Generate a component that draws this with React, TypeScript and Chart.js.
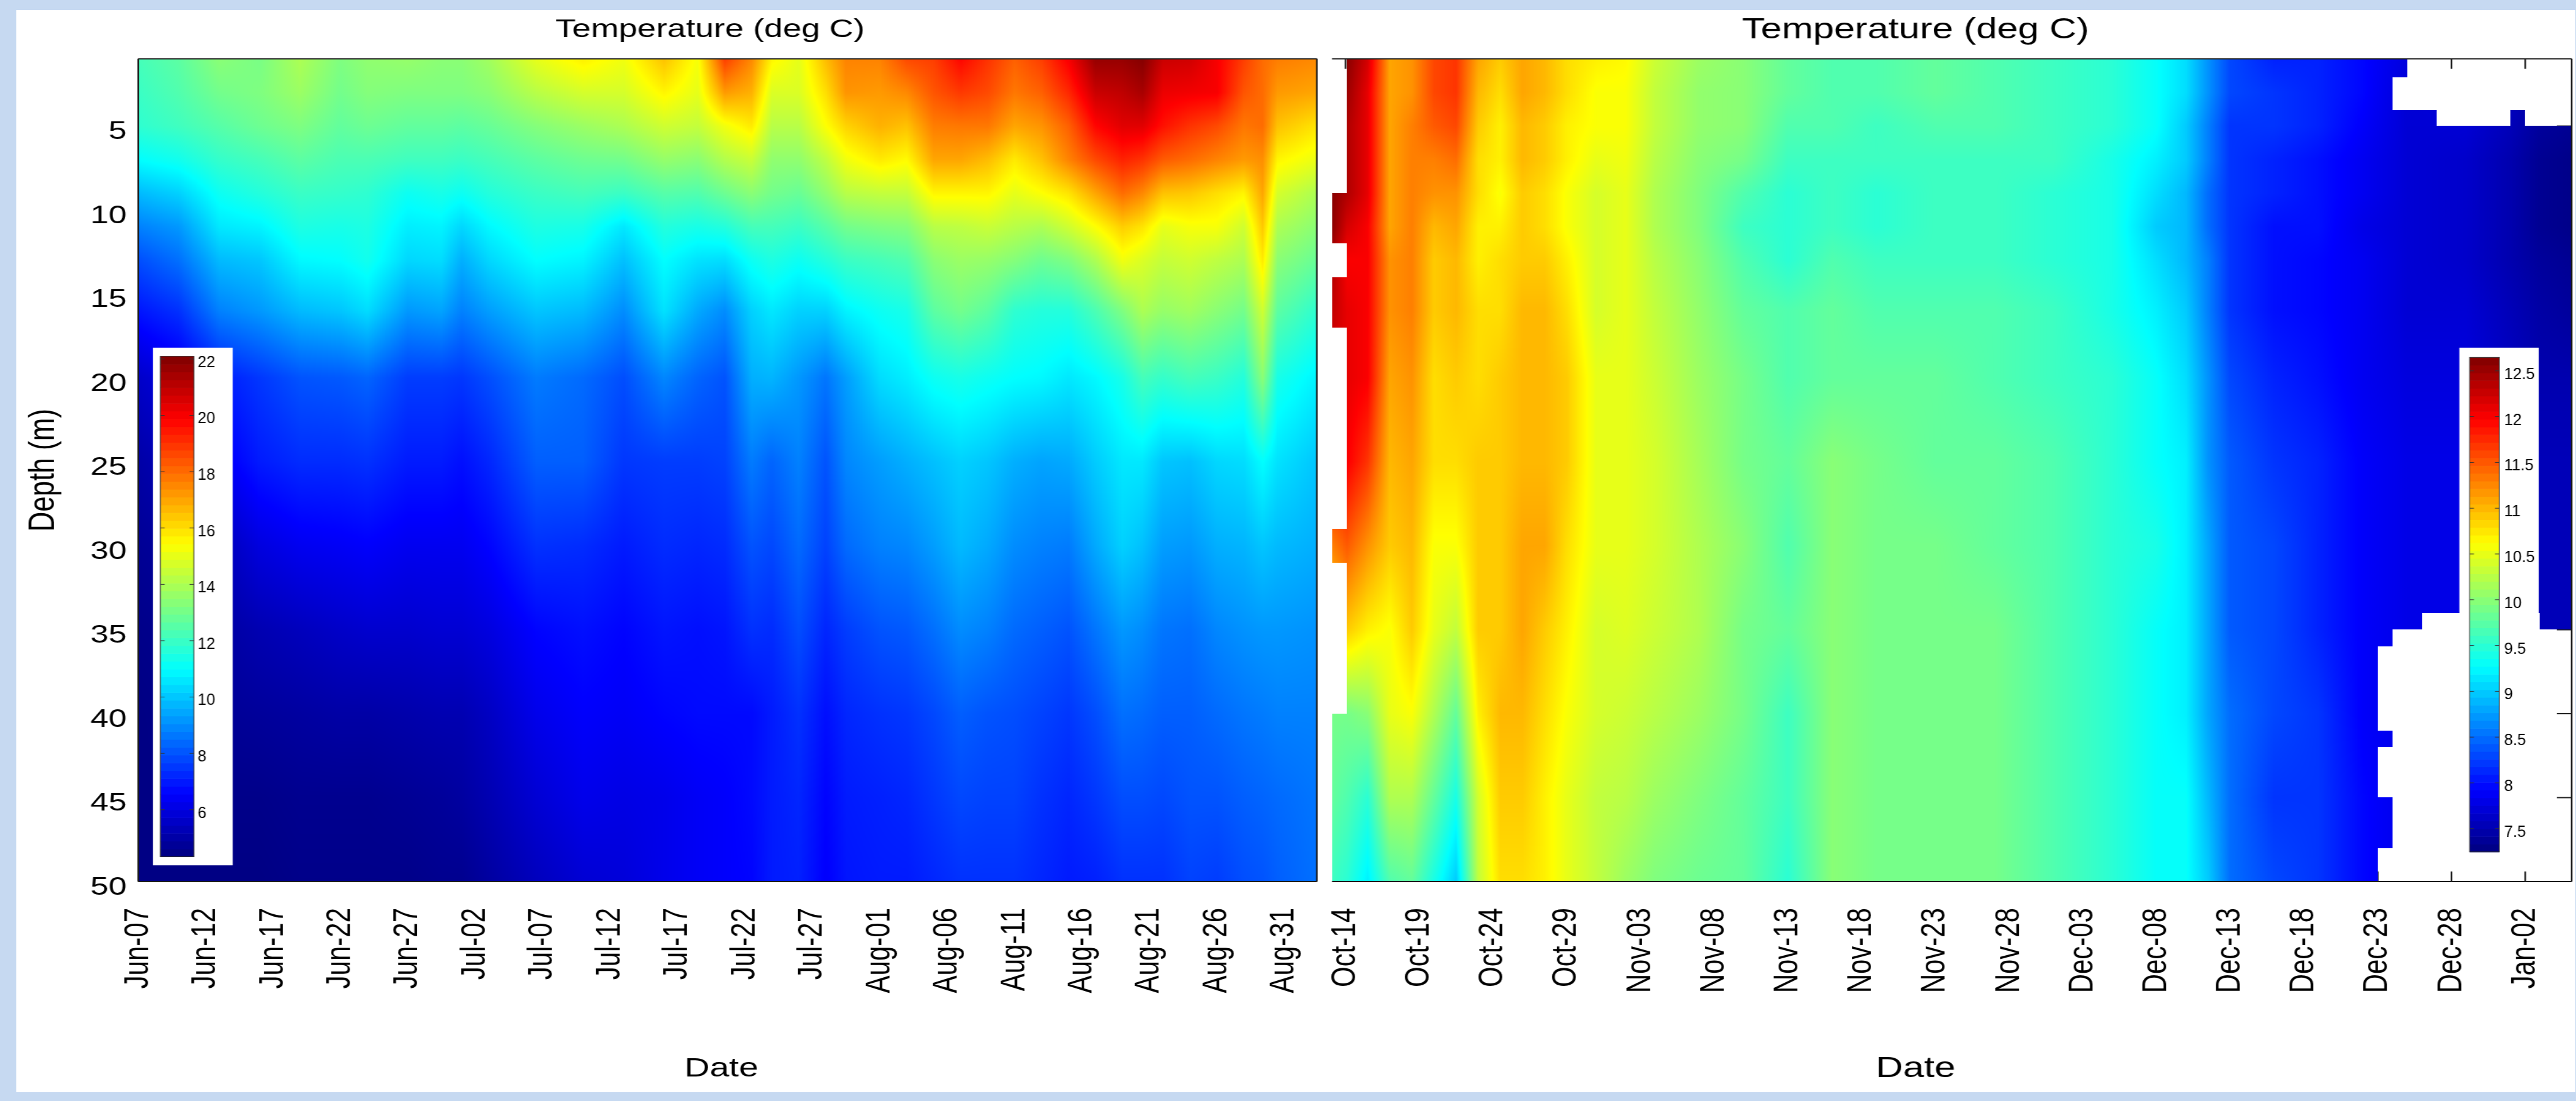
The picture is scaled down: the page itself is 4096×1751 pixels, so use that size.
import React, { useEffect, useRef } from "react";
import { Chart, registerables } from "chart.js";

Chart.register(...registerables);

const K = 4096 / 4771;
const STRETCH = 1.3;

const depths = [1, 3, 5, 7, 9, 11, 13, 16, 20, 25, 30, 35, 40, 45, 50];
const depthTicks = [5, 10, 15, 20, 25, 30, 35, 40, 45, 50];

const summerLabels = ["Jun-07", "Jun-12", "Jun-17", "Jun-22", "Jun-27", "Jul-02", "Jul-07", "Jul-12", "Jul-17", "Jul-22", "Jul-27", "Aug-01", "Aug-06", "Aug-11", "Aug-16", "Aug-21", "Aug-26", "Aug-31"];
const summerTickDays = [0, 5, 10, 15, 20, 25, 30, 35, 40, 45, 50, 55, 60, 65, 70, 75, 80, 85];
const autumnLabels = ["Oct-14", "Oct-19", "Oct-24", "Oct-29", "Nov-03", "Nov-08", "Nov-13", "Nov-18", "Nov-23", "Nov-28", "Dec-03", "Dec-08", "Dec-13", "Dec-18", "Dec-23", "Dec-28", "Jan-02"];
const autumnTickDays = [0, 5, 10, 15, 20, 25, 30, 35, 40, 45, 50, 55, 60, 65, 70, 75, 80];

const summerDays = [0, 3, 6, 9, 12, 15, 17, 20, 22.5, 24, 26, 29.5, 33, 36, 39, 41.5, 43.5, 45.5, 47, 49, 51, 52.5, 55, 57, 59, 61, 63, 65, 67, 69, 71, 73, 74.5, 76, 78, 80, 82, 83.4, 84.5, 87.4];
const summerTemps = [
  [12.2, 12, 11.8, 11, 9.8, 8.8, 7.9, 6.9, 5.6, 5, 4.7, 4.5, 4.4, 4.4, 4.4],
  [12.6, 12.4, 12.1, 11.3, 10.2, 9.2, 8.5, 7.4, 6.1, 5.4, 4.9, 4.6, 4.5, 4.4, 4.4],
  [13.4, 13, 12.5, 11.9, 11.2, 10.6, 9.8, 8.8, 7, 6.3, 5.3, 4.9, 4.7, 4.5, 4.4],
  [13.1, 13.2, 12.9, 12.2, 11.6, 10.8, 10, 9.2, 7.5, 7, 6, 5.2, 4.8, 4.5, 4.4],
  [14, 13.7, 13.2, 12.6, 12, 11.5, 10.9, 9.8, 8, 7.3, 6.3, 5.4, 4.9, 4.6, 4.5],
  [13.2, 13, 12.7, 12.3, 11.9, 11.4, 11, 10, 8.1, 7.3, 6.4, 5.6, 5, 4.6, 4.5],
  [13.5, 13.3, 12.9, 12.3, 11.8, 11.5, 11.3, 10.4, 8.3, 7.4, 6.5, 5.7, 5, 4.6, 4.5],
  [13.6, 13.2, 12.7, 12.1, 11.2, 10.7, 10.3, 9.2, 7.6, 7, 6.3, 5.7, 5.1, 4.7, 4.5],
  [13.4, 13.2, 12.7, 12.1, 11.4, 10.8, 10.4, 9.4, 7.6, 7, 6.3, 5.8, 5.2, 4.8, 4.6],
  [13.4, 13.2, 12.6, 12, 11.2, 10.3, 9.6, 8.8, 7.5, 6.8, 6.3, 5.8, 5.2, 4.9, 4.6],
  [13.8, 13.4, 12.8, 12.2, 11.6, 10.9, 10.3, 9.3, 7.9, 7.2, 6.6, 6, 5.5, 5.2, 4.9],
  [15, 14.2, 13.3, 12.6, 12, 11.5, 11, 10, 8.7, 8.2, 7.4, 6.6, 6.2, 5.8, 5.4],
  [15.7, 14.7, 13.7, 12.9, 12.2, 11.4, 10.8, 9.8, 8.4, 8.2, 7.3, 6.8, 6.5, 6.2, 5.8],
  [15.2, 14.7, 14, 13, 12, 10.6, 9.9, 9, 7.9, 7.5, 7, 6.6, 6.4, 6.1, 5.9],
  [16.5, 15.6, 14.6, 13.6, 12.5, 11.6, 11, 10.5, 8.9, 7.6, 7.3, 6.9, 6.6, 6.2, 6.2],
  [15.3, 15, 14.4, 13.4, 12.4, 11.4, 10.5, 9.5, 8.3, 7.6, 7.2, 6.8, 6.7, 6.4, 6.4],
  [18.8, 17.2, 15.2, 14.1, 12.9, 11.6, 10.4, 9, 8, 7.7, 7.3, 6.9, 6.7, 6.5, 6.5],
  [17.5, 16.8, 15.8, 14.5, 13.4, 12.2, 11.2, 10.2, 9.6, 8.7, 8, 7.4, 6.7, 6.7, 6.6],
  [15.6, 14.8, 14.2, 13.5, 13, 12.2, 11.5, 10.6, 9.7, 8.3, 7.8, 7.3, 7, 7, 7],
  [15, 14.8, 14.2, 13.5, 12.8, 12, 11.2, 10.2, 9.2, 8.8, 8.4, 7.9, 7.4, 7.2, 7.1],
  [16.6, 16, 15.4, 14.3, 13.5, 12.5, 11.6, 10.2, 8.6, 8, 7.7, 7.2, 6.8, 6.6, 6.5],
  [17.6, 17.3, 16.2, 15.2, 14.2, 13, 12, 10.8, 9.3, 8.9, 8.4, 7.6, 7.2, 7, 6.9],
  [17.6, 17.2, 16.8, 15.8, 14.4, 13.2, 12.2, 11.2, 10.4, 9.3, 8.8, 8, 7.4, 7.1, 7],
  [18.6, 17.5, 16.5, 15.5, 14.4, 13.3, 12.4, 11.4, 10.7, 9.6, 8.9, 8.1, 7.5, 7.2, 7],
  [18.8, 18.4, 17.7, 17, 15.6, 14.2, 13.4, 12.6, 11.2, 9.9, 9.3, 8.5, 7.8, 7.5, 7.2],
  [19.8, 18.9, 17.8, 17, 15.6, 14.3, 13.7, 13, 11.4, 10.2, 9.8, 9, 8.2, 7.8, 7.4],
  [19, 18.6, 17.8, 16.6, 15.6, 14.5, 13.6, 12.6, 11.2, 10, 9.5, 8.8, 8, 7.7, 7.4],
  [18.2, 17.8, 17, 15.8, 15, 14.2, 13.3, 11.8, 11, 9.6, 9, 8.4, 7.9, 7.7, 7.4],
  [18.8, 18.2, 17.3, 16.5, 15.4, 14, 12.9, 11.6, 10.9, 9.4, 8.8, 8.2, 7.7, 7.4, 7.2],
  [20, 19.2, 18.2, 17.6, 15.9, 14.6, 13.2, 11.6, 10.6, 9.5, 8.7, 8, 7.5, 7.2, 7],
  [21.7, 20.8, 19.8, 18.6, 17, 15.4, 14, 12.3, 10.9, 10.1, 9.5, 8.6, 7.9, 7.5, 7.1],
  [21.7, 21, 20.4, 19.3, 18, 16.3, 15.2, 13.2, 11.4, 10.6, 10.2, 9.2, 8.5, 7.9, 7.4],
  [22, 21.4, 20.4, 19, 17.5, 15.9, 14.8, 14, 12.2, 10.6, 9.9, 9, 8.4, 7.9, 7.4],
  [20.8, 20.2, 19.6, 18.3, 16.5, 15, 14.4, 13.6, 11.9, 10, 9.3, 8.6, 8.2, 7.8, 7.4],
  [20.7, 20.1, 19, 18, 16.4, 15.3, 14.6, 13.8, 12.2, 9.9, 9.2, 8.5, 8.2, 8, 7.7],
  [20, 20, 18.6, 17.6, 16, 15.3, 14.3, 13.4, 12, 10.3, 9.6, 8.9, 8.4, 8, 7.6],
  [18.8, 18.4, 17.8, 17.2, 15.6, 14.6, 14, 13, 11.6, 10.4, 9.7, 9.1, 8.6, 8.2, 7.9],
  [18, 18, 18, 17.4, 17, 16.4, 15.8, 14.6, 13.4, 11, 10, 9.2, 8.7, 8.3, 8],
  [17.7, 17.2, 16.5, 15.6, 14.7, 14, 13.4, 12.6, 11.4, 10.5, 9.8, 9.2, 8.8, 8.4, 8.2],
  [17.5, 17, 15.9, 15.1, 14, 13.4, 12.8, 11.8, 10.8, 10, 9.6, 9.1, 8.8, 8.6, 8.5],
];

const autumnDays = [-0.92, 0.1, 1.5, 3, 4.5, 6, 7.5, 9, 10.5, 12, 13.5, 15, 17, 19, 21, 24, 27, 30, 33, 36, 40, 44, 48, 52, 55, 57, 58.5, 60, 63, 66, 69, 72, 76, 79, 81, 83.2];
const autumnTemps = [
  [12.6, 12.6, 12.6, 12.6, 12.6, 12.6, 12.4, 12.3, 12.2, 12, 11.3, 10.6, 9.9, 9.8, 9.6],
  [12.6, 12.5, 12.4, 12.4, 12.4, 12.2, 12, 12.1, 12.1, 12, 11.5, 10.9, 9.9, 9.7, 9.5],
  [12.2, 12.1, 12.1, 12.1, 12.1, 12, 12, 12, 12, 11.7, 11.2, 10.7, 10, 9.5, 9.2],
  [11.1, 11.1, 11.1, 11.1, 11.1, 11.1, 11.2, 11.2, 11.1, 11, 10.9, 10.6, 10.5, 10.2, 9.7],
  [11.2, 11.2, 11.3, 11.3, 11.3, 11.3, 11.3, 11.3, 11.2, 11.1, 11, 10.9, 10.6, 10.2, 9.8],
  [11.6, 11.6, 11.5, 11.3, 11.2, 11, 10.9, 10.9, 10.8, 10.8, 10.6, 10.5, 10.2, 9.8, 9.4],
  [11.7, 11.7, 11.6, 11.4, 11.2, 11.1, 11, 11, 10.9, 10.8, 10.6, 10.3, 9.8, 9.4, 9],
  [11.1, 11, 10.9, 10.8, 10.8, 10.7, 10.7, 10.8, 10.8, 10.9, 10.9, 10.9, 10.7, 10.4, 10.3],
  [10.9, 10.8, 10.7, 10.7, 10.6, 10.7, 10.8, 10.8, 10.9, 10.9, 10.9, 10.9, 11, 10.9, 10.8],
  [11.1, 11.1, 11, 11, 10.9, 10.9, 10.9, 11, 11, 11, 11.1, 11.1, 11, 10.9, 10.8],
  [11, 11, 10.9, 10.9, 10.8, 10.8, 10.9, 11, 11, 11, 11.1, 10.9, 10.8, 10.7, 10.7],
  [10.8, 10.8, 10.7, 10.7, 10.6, 10.6, 10.7, 10.8, 10.9, 10.9, 10.8, 10.7, 10.6, 10.5, 10.5],
  [10.7, 10.6, 10.6, 10.5, 10.4, 10.4, 10.4, 10.4, 10.5, 10.5, 10.5, 10.4, 10.4, 10.3, 10.3],
  [10.65, 10.6, 10.6, 10.55, 10.5, 10.5, 10.5, 10.5, 10.5, 10.5, 10.5, 10.45, 10.35, 10.25, 10.1],
  [10.35, 10.3, 10.3, 10.25, 10.2, 10.2, 10.25, 10.3, 10.35, 10.4, 10.4, 10.35, 10.25, 10.1, 9.95],
  [10.1, 10.05, 10.05, 10, 9.95, 9.95, 10, 10.05, 10.1, 10.15, 10.2, 10.2, 10.1, 9.95, 9.85],
  [10, 10, 10, 9.9, 9.7, 9.6, 9.7, 9.8, 9.9, 9.9, 10, 9.9, 9.9, 9.8, 9.8],
  [9.8, 9.8, 9.7, 9.6, 9.5, 9.5, 9.5, 9.7, 9.7, 9.8, 9.7, 9.8, 9.6, 9.6, 9.5],
  [9.7, 9.7, 9.7, 9.6, 9.6, 9.6, 9.7, 9.8, 9.8, 10, 10, 10, 10, 10, 10],
  [9.7, 9.7, 9.6, 9.6, 9.5, 9.5, 9.6, 9.7, 9.8, 9.9, 9.9, 9.9, 9.9, 9.9, 9.9],
  [9.8, 9.8, 9.7, 9.6, 9.6, 9.6, 9.6, 9.7, 9.8, 9.8, 9.9, 9.9, 9.9, 9.9, 9.9],
  [9.7, 9.7, 9.7, 9.6, 9.6, 9.6, 9.6, 9.7, 9.7, 9.8, 9.8, 9.9, 9.9, 9.9, 9.9],
  [9.6, 9.6, 9.6, 9.6, 9.5, 9.5, 9.5, 9.6, 9.6, 9.7, 9.7, 9.7, 9.7, 9.7, 9.7],
  [9.5, 9.5, 9.5, 9.4, 9.4, 9.4, 9.4, 9.4, 9.5, 9.5, 9.5, 9.5, 9.5, 9.5, 9.5],
  [9.3, 9.3, 9.3, 9.2, 9.1, 9, 9.1, 9.2, 9.3, 9.3, 9.4, 9.3, 9.3, 9.3, 9.3],
  [9.1, 9.1, 9, 9, 8.9, 8.9, 8.9, 9, 9.1, 9.2, 9.2, 9.2, 9.2, 9.3, 9.3],
  [8.7, 8.7, 8.6, 8.6, 8.5, 8.5, 8.6, 8.6, 8.7, 8.7, 8.8, 8.8, 8.8, 8.9, 9],
  [8.3, 8.3, 8.2, 8.2, 8.2, 8.2, 8.2, 8.2, 8.3, 8.4, 8.4, 8.4, 8.5, 8.5, 8.5],
  [8.1, 8.2, 8.2, 8.1, 8.1, 8, 8, 8, 8.1, 8.2, 8.3, 8.3, 8.3, 8.2, 8.3],
  [8.1, 8.1, 8.1, 8, 8, 8, 7.95, 7.95, 8, 8.1, 8.1, 8.1, 8.2, 8.2, 8.2],
  [7.95, 7.95, 7.9, 7.85, 7.85, 7.8, 7.85, 7.85, 7.85, 7.9, 7.9, 7.9, 7.9, 7.95, 7.95],
  [7.75, 7.7, 7.7, 7.7, 7.7, 7.7, 7.7, 7.7, 7.75, 7.8, 7.8, 7.8, 7.8, 7.8, 7.8],
  [7.75, 7.75, 7.7, 7.65, 7.65, 7.65, 7.65, 7.7, 7.75, 7.8, 7.8, 7.8, 7.8, 7.8, 7.8],
  [7.6, 7.6, 7.55, 7.5, 7.5, 7.5, 7.5, 7.55, 7.6, 7.6, 7.65, 7.65, 7.65, 7.65, 7.65],
  [7.5, 7.45, 7.4, 7.35, 7.35, 7.35, 7.4, 7.45, 7.5, 7.55, 7.55, 7.55, 7.6, 7.6, 7.6],
  [7.45, 7.4, 7.35, 7.3, 7.3, 7.3, 7.35, 7.4, 7.5, 7.55, 7.55, 7.55, 7.6, 7.6, 7.6],
];

// [from day, to day, from depth, to depth] where the record has no data
const autumnGaps = [
  [-2, 0.1, 1, 9], [-2, 0.1, 12, 14], [-2, 0.1, 17, 29], [-2, 0.1, 31, 40],
  [72, 90, 1, 2.1], [71, 90, 2.1, 4.05], [74, 79, 4.05, 5], [80, 90, 4.05, 5],
  [73, 81, 34, 35], [71, 90, 35, 36], [70, 90, 36, 41], [71, 90, 41, 42],
  [70, 90, 42, 45], [71, 90, 45, 48], [70, 90, 48, 50],
];

const summerBarTicks = [22, 20, 18, 16, 14, 12, 10, 8, 6];
const autumnBarTicks = [12.5, 12, 11.5, 11, 10.5, 10, 9.5, 9, 8.5, 8, 7.5];

const TITLE = "Temperature (deg C)";
const FONT = "'Liberation Sans', Arial, sans-serif";

function jet(t: number): [number, number, number] {
  const c = (v: number) => Math.max(0, Math.min(1, v)) * 255;
  const u = Math.max(0, Math.min(1, t));
  return [c(1.5 - Math.abs(4 * u - 3)), c(1.5 - Math.abs(4 * u - 2)), c(1.5 - Math.abs(4 * u - 1))];
}

function bracket(list: number[], v: number): [number, number] {
  let i = 0;
  while (i < list.length - 2 && list[i + 1] < v) i++;
  const f = (v - list[i]) / (list[i + 1] - list[i]);
  return [i, Math.max(0, Math.min(1, f))];
}

type Panel = {
  x0: number; width: number; areaLeft: number; areaRight: number;
  xMin: number; xMax: number; days: number[]; temps: number[][];
  tickDays: number[]; tickLabels: string[]; cMin: number; cMax: number;
  gaps: number[][]; showDepth: boolean; dateX: number; sides: string[];
  titleSize: number; dateSize: number;
  box: number[]; bar: number[]; barTicks: number[]; barTickY: [number, number]; barHigh: number; barLow: number;
  labelX: number;
};

function panelPlugin(p: Panel) {
  const ix = (X: number) => ((X - p.x0) * K) / STRETCH;
  const iy = (Y: number) => Y * K;
  return {
    id: "panel",
    beforeDatasetsDraw(chart: any) {
      const { ctx, chartArea: a, scales } = chart;
      const left = Math.round(a.left), top = Math.round(a.top);
      const w = Math.round(a.right) - left, h = Math.round(a.bottom) - top;
      const pts = chart.data.datasets[0].data;
      const nD = depths.length;
      const colInfo = Array.from({ length: w }, (_, i) => bracket(p.days, scales.x.getValueForPixel(left + i + 0.5)));
      const rowInfo = Array.from({ length: h }, (_, j) => bracket(depths, scales.y.getValueForPixel(top + j + 0.5)));
      const img = ctx.createImageData(w, h);
      let o = 0;
      for (let j = 0; j < h; j++) {
        const [r, fr] = rowInfo[j];
        for (let i = 0; i < w; i++) {
          const [c, fc] = colInfo[i];
          const v00 = pts[c * nD + r].v, v01 = pts[c * nD + r + 1].v;
          const v10 = pts[(c + 1) * nD + r].v, v11 = pts[(c + 1) * nD + r + 1].v;
          const v = (v00 * (1 - fr) + v01 * fr) * (1 - fc) + (v10 * (1 - fr) + v11 * fr) * fc;
          const rgb = jet((v - p.cMin) / (p.cMax - p.cMin));
          img.data[o++] = rgb[0]; img.data[o++] = rgb[1]; img.data[o++] = rgb[2]; img.data[o++] = 255;
        }
      }
      ctx.putImageData(img, left, top);

      // gaps in the record, with the axis ticks showing through them
      ctx.save();
      ctx.beginPath();
      ctx.rect(a.left, a.top, a.right - a.left, a.bottom - a.top);
      ctx.clip();
      ctx.fillStyle = "#fff";
      const rects = p.gaps.map((g) => {
        const x1 = Math.round(scales.x.getPixelForValue(g[0])), x2 = Math.round(scales.x.getPixelForValue(g[1]));
        const y1 = Math.round(scales.y.getPixelForValue(g[2])), y2 = Math.round(scales.y.getPixelForValue(g[3]));
        return [x1, y1, x2 - x1, y2 - y1];
      });
      rects.forEach((r) => ctx.fillRect(r[0], r[1], r[2], r[3]));
      if (rects.length) {
        ctx.beginPath();
        rects.forEach((r) => ctx.rect(r[0], r[1], r[2], r[3]));
        ctx.clip();
        ctx.strokeStyle = "#222";
        ctx.lineWidth = 2;
        ctx.beginPath();
        p.tickDays.forEach((d) => {
          const x = scales.x.getPixelForValue(d);
          ctx.moveTo(x, a.top); ctx.lineTo(x, a.top + 16);
          ctx.moveTo(x, a.bottom); ctx.lineTo(x, a.bottom - 16);
        });
        depthTicks.forEach((d) => {
          const y = scales.y.getPixelForValue(d);
          ctx.moveTo(a.right, y); ctx.lineTo(a.right - 18, y);
        });
        ctx.stroke();
      }
      ctx.restore();

      // frame
      ctx.strokeStyle = "#1c1c1c";
      ctx.lineWidth = 2;
      ctx.beginPath();
      if (p.sides.includes("t")) { ctx.moveTo(a.left, a.top); ctx.lineTo(a.right, a.top); }
      if (p.sides.includes("b")) { ctx.moveTo(a.left, a.bottom); ctx.lineTo(a.right, a.bottom); }
      if (p.sides.includes("l")) { ctx.moveTo(a.left, a.top); ctx.lineTo(a.left, a.bottom); }
      if (p.sides.includes("r")) { ctx.moveTo(a.right, a.top); ctx.lineTo(a.right, a.bottom); }
      ctx.stroke();

      // colour bar
      const [bx1, by1, bx2, by2] = p.box;
      ctx.fillStyle = "#fff";
      ctx.fillRect(ix(bx1), iy(by1), ix(bx2) - ix(bx1), iy(by2) - iy(by1));
      const [cx1, cy1, cx2, cy2] = p.bar;
      const bands = 64;
      for (let b = 0; b < bands; b++) {
        const rgb = jet((b + 0.5) / bands);
        ctx.fillStyle = `rgb(${rgb[0] | 0},${rgb[1] | 0},${rgb[2] | 0})`;
        const ya = iy(cy2 - ((cy2 - cy1) * (b + 1)) / bands);
        const yb = iy(cy2 - ((cy2 - cy1) * b) / bands);
        ctx.fillRect(ix(cx1), ya, ix(cx2) - ix(cx1), yb - ya + 0.6);
      }
      ctx.strokeStyle = "#333";
      ctx.lineWidth = 1;
      ctx.strokeRect(ix(cx1), iy(cy1), ix(cx2) - ix(cx1), iy(cy2) - iy(cy1));
      const [tyHigh, tyLow] = p.barTickY;
      const tickAt = (v: number) => tyHigh + ((tyLow - tyHigh) * (p.barHigh - v)) / (p.barHigh - p.barLow);
      ctx.fillStyle = "#000";
      ctx.font = `25px ${FONT}`;
      ctx.textAlign = "left";
      ctx.textBaseline = "middle";
      p.barTicks.forEach((v) => {
        const Y = tickAt(v);
        ctx.beginPath();
        ctx.moveTo(ix(cx1), iy(Y)); ctx.lineTo(ix(cx1 + 8), iy(Y));
        ctx.moveTo(ix(cx2), iy(Y)); ctx.lineTo(ix(cx2 - 8), iy(Y));
        ctx.stroke();
        ctx.save();
        ctx.translate(ix(p.labelX), iy(Y + 7));
        ctx.scale(1 / STRETCH, 1);
        ctx.fillText(String(v), 0, 0);
        ctx.restore();
      });

      // bottom axis name
      ctx.font = `${p.dateSize}px ${FONT}`;
      ctx.textAlign = "center";
      ctx.fillText("Date", ix(p.dateX), iy(1980));
    },
  };
}

function buildChart(canvas: HTMLCanvasElement, p: Panel) {
  const data: any[] = [];
  p.days.forEach((d, i) => depths.forEach((z, j) => data.push({ x: d, y: z, v: p.temps[i][j] })));
  const areaL = ((p.areaLeft - p.x0) * K) / STRETCH;
  const areaR = ((p.areaRight - p.x0) * K) / STRETCH;
  const titleTop = 48 - p.titleSize / 2;
  return new Chart(canvas, {
    type: "scatter",
    data: { datasets: [{ label: "Temperature (deg C)", data, pointRadius: 0, showLine: false }] },
    plugins: [panelPlugin(p)],
    options: {
      animation: false,
      responsive: false,
      events: [],
      layout: { autoPadding: false, padding: 0 },
      plugins: {
        legend: { display: false },
        tooltip: { enabled: false },
        title: {
          display: true,
          text: TITLE,
          color: "#000",
          font: { family: FONT, size: p.titleSize, weight: "normal", lineHeight: 1 },
          padding: { top: titleTop, bottom: 109 * K - titleTop - p.titleSize },
        },
      },
      scales: {
        x: {
          type: "linear",
          min: p.xMin,
          max: p.xMax,
          grid: { display: false, drawTicks: false },
          border: { display: false },
          afterBuildTicks: (s: any) => { s.ticks = p.tickDays.map((value) => ({ value })); },
          afterFit: (s: any) => { s.height = 1751 - 1633 * K; s.paddingLeft = 0; s.paddingRight = 0; },
          ticks: {
            autoSkip: false,
            minRotation: 90,
            maxRotation: 90,
            padding: 42,
            color: "#000",
            font: { family: FONT, size: 42 },
            callback: (_v: any, i: number) => p.tickLabels[i],
          },
        },
        y: {
          type: "linear",
          reverse: true,
          min: 1,
          max: 50,
          grid: { display: false, drawTicks: false },
          border: { display: false },
          afterBuildTicks: (s: any) => { s.ticks = depthTicks.map((value) => ({ value })); },
          afterFit: (s: any) => { s.width = areaL; s.paddingTop = 0; s.paddingBottom = 0; },
          title: p.showDepth
            ? { display: true, text: "Depth (m)", color: "#000", font: { family: FONT, size: 44, lineHeight: 1 }, padding: { top: 32, bottom: 0 } }
            : { display: false },
          ticks: {
            display: p.showDepth,
            padding: 14,
            labelOffset: 10,
            color: "#000",
            font: { family: FONT, size: 40 },
            callback: (v: any) => String(v),
          },
        },
        // an empty right-hand axis holds the plot area in from the canvas edge, so the title centres on the whole canvas
        rightMargin: {
          type: "linear",
          position: "right",
          display: true,
          grid: { display: false, drawTicks: false },
          border: { display: false },
          ticks: { display: false },
          afterFit: (s: any) => { s.width = canvas.width - areaR; s.paddingTop = 0; s.paddingBottom = 0; },
        },
      },
    } as any,
  } as any);
}

const summerPanel: Panel = {
  x0: 0, width: 2630, areaLeft: 256, areaRight: 2439, xMin: 0, xMax: 87.42,
  days: summerDays, temps: summerTemps, tickDays: summerTickDays, tickLabels: summerLabels,
  cMin: 4.33, cMax: 22.1, gaps: [], showDepth: true, dateX: 1336, sides: ["t", "b", "l", "r"],
  titleSize: 41, dateSize: 43,
  box: [283, 644, 431, 1603], bar: [297, 660, 359, 1587], barTicks: summerBarTicks,
  barTickY: [665, 1500], barHigh: 22, barLow: 6, labelX: 366,
};

const autumnPanel: Panel = {
  x0: 2325, width: 2446, areaLeft: 2467, areaRight: 4763, xMin: -0.92, xMax: 83.15,
  days: autumnDays, temps: autumnTemps, tickDays: autumnTickDays, tickLabels: autumnLabels,
  cMin: 7.25, cMax: 12.65, gaps: autumnGaps, showDepth: false, dateX: 3548, sides: ["t", "b", "r"],
  titleSize: 46, dateSize: 46,
  box: [4555, 644, 4702, 1603], bar: [4574, 662, 4629, 1578], barTicks: autumnBarTicks,
  barTickY: [687, 1535], barHigh: 12.5, barLow: 7.5, labelX: 4638,
};

function PanelCanvas({ panel }: { panel: Panel }) {
  const ref = useRef<HTMLCanvasElement>(null);
  useEffect(() => {
    const c = buildChart(ref.current!, panel);
    return () => c.destroy();
  }, [panel]);
  return (
    <canvas
      ref={ref}
      width={Math.round((panel.width * K) / STRETCH)}
      height={1751}
      style={{ position: "absolute", left: panel.x0 * K, top: 0, transform: `scaleX(${STRETCH})`, transformOrigin: "0 0" }}
    />
  );
}

export default function App() {
  useEffect(() => { document.body.style.margin = "0"; document.body.style.overflow = "hidden"; }, []);
  return (
    <div style={{ position: "fixed", left: 0, top: 0, width: 4096, height: 1751, background: "#c6d9f1", overflow: "hidden" }}>
      <div style={{ position: "absolute", left: 26, top: 16, width: 4069, height: 1721, background: "#fff" }} />
      <PanelCanvas panel={summerPanel} />
      <PanelCanvas panel={autumnPanel} />
    </div>
  );
}
